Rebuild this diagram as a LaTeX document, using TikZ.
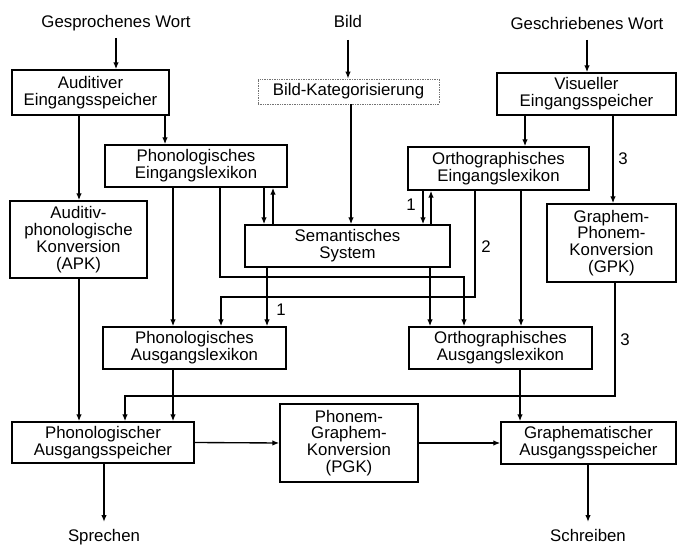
\documentclass[tikz,border=0pt]{standalone}
\usepackage{fontspec}
\setmainfont{Liberation Sans}
\usepackage{tikz}
\usetikzlibrary{arrows.meta}
\tikzset{>={Latex[length=7pt,width=5.5pt]}}

\begin{document}
\begin{tikzpicture}[x=1pt,y=-1pt,
  box/.style={draw, line width=1.4pt, align=center, inner sep=0pt},
  dotbox/.style={draw=black!55, densely dotted, line width=0.7pt, align=center, inner sep=0pt},
  lbl/.style={align=center, inner sep=0pt},
  conn/.style={->, line width=1.35pt},
  every node/.append style={font=\fontsize{16.8}{16.8}\selectfont}]

  \useasboundingbox (0,0) rectangle (678,545);

  % Nodes
  \node[lbl, anchor=base] (gespr) at (116,28) {Gesprochenes Wort};
  \node[lbl, anchor=base] (bild) at (348,28) {Bild};
  \node[lbl, anchor=base] (geschr) at (587,30) {Geschriebenes Wort};

  \node[box, minimum width=157pt, minimum height=45pt] (audin) at (90.5,92.5) {Auditiver\\Eingangsspeicher};
  \node[dotbox, minimum width=181pt, minimum height=25pt] (bildkat) at (348.5,91.5) {Bild-Kategorisierung};
  \node[box, minimum width=179pt, minimum height=42pt] (visin) at (586.5,94) {Visueller\\Eingangsspeicher};

  \node[box, minimum width=182pt, minimum height=42pt] (phonin) at (196,166) {Phonologisches\\Eingangslexikon};
  \node[box, minimum width=181pt, minimum height=43pt] (orthin) at (498.5,168.5) {Orthographisches\\Eingangslexikon};

  \node[box, minimum width=137pt, minimum height=77pt] (apk) at (78.5,239.5) {Auditiv-\\phonologische\\Konversion\\(APK)};
  \node[box, minimum width=205pt, minimum height=42pt] (sem) at (347.5,246) {Semantisches\\System};
  \node[box, minimum width=129pt, minimum height=78pt] (gpk) at (611.5,243) {Graphem-\\Phonem-\\Konversion\\(GPK)};

  \node[box, minimum width=183pt, minimum height=42pt] (phonout) at (194.5,348) {Phonologisches\\Ausgangslexikon};
  \node[box, minimum width=183pt, minimum height=42pt] (orthout) at (500.5,348) {Orthographisches\\Ausgangslexikon};

  \node[box, minimum width=182pt, minimum height=41pt] (phonsp) at (103,442.5) {Phonologischer\\Ausgangsspeicher};
  \node[box, minimum width=138pt, minimum height=78pt] (pgk) at (349,443) {Phonem-\\Graphem-\\Konversion\\(PGK)};
  \node[box, minimum width=175pt, minimum height=42pt] (graphsp) at (588.5,443) {Graphematischer\\Ausgangsspeicher};

  \node[lbl, anchor=base] (sprechen) at (104,541) {Sprechen};
  \node[lbl, anchor=base] (schreiben) at (588,541) {Schreiben};

  % Labels on the routes
  \node[lbl] (n1a) at (411,205) {1};
  \node[lbl] (n2) at (486,247) {2};
  \node[lbl] (n1b) at (281,310) {1};
  \node[lbl] (n3a) at (623,159) {3};
  \node[lbl] (n3b) at (625,340) {3};

  % Edges
  \draw[conn] (gespr.south |- 0,38) -- (gespr.south |- audin.north);
  \draw[conn] (bild.south |- 0,40) -- (bild.south |- bildkat.north);
  \draw[conn] (geschr.south |- 0,40) -- (geschr.south |- visin.north);

  \draw[conn] (audin.south -| 79,0) -- (apk.north -| 79,0);
  \draw[conn] (audin.south -| 165,0) -- (phonin.north -| 165,0);
  \draw[conn] (visin.south -| 525,0) -- (orthin.north -| 525,0);
  \draw[conn] (visin.south -| 613,0) -- (gpk.north -| 613,0);

  \draw[conn] (bildkat.south -| 351,0) -- (sem.north -| 351,0);
  \draw[conn] (phonin.south -| 264,0) -- (sem.north -| 264,0);
  \draw[conn] (sem.north -| 273,0) -- (phonin.south -| 273,0);
  \draw[conn] (orthin.south -| 423,0) -- (sem.north -| 423,0);
  \draw[conn] (sem.north -| 431,0) -- (orthin.south -| 431,0);

  \draw[conn] (phonin.south -| 173,0) -- (phonout.north -| 173,0);
  \draw[conn] (phonin.south -| 220,0) |- (464,277) -- (orthout.north -| 464,0);
  \draw[conn] (orthin.south -| 475,0) |- (221,297) -- (phonout.north -| 221,0);
  \draw[conn] (orthin.south -| 521,0) -- (orthout.north -| 521,0);
  \draw[conn] (sem.south -| 267,0) -- (phonout.north -| 267,0);
  \draw[conn] (sem.south -| 430,0) -- (orthout.north -| 430,0);

  \draw[conn] (apk.south -| 79,0) -- (phonsp.north -| 79,0);
  \draw[conn] (phonout.south -| 173,0) -- (phonsp.north -| 173,0);
  \draw[conn] (gpk.south -| 615,0) |- (125,396) -- (phonsp.north -| 125,0);
  \draw[conn] (orthout.south -| 520,0) -- (graphsp.north -| 520,0);

  \draw[conn] (phonsp.east) -- (pgk.west);
  \draw[conn] (pgk.east) -- (graphsp.west);
  \draw[conn] (phonsp.south -| sprechen) -- (sprechen.north |- 0,522);
  \draw[conn] (graphsp.south -| schreiben) -- (schreiben.north |- 0,522);

\end{tikzpicture}
\end{document}
